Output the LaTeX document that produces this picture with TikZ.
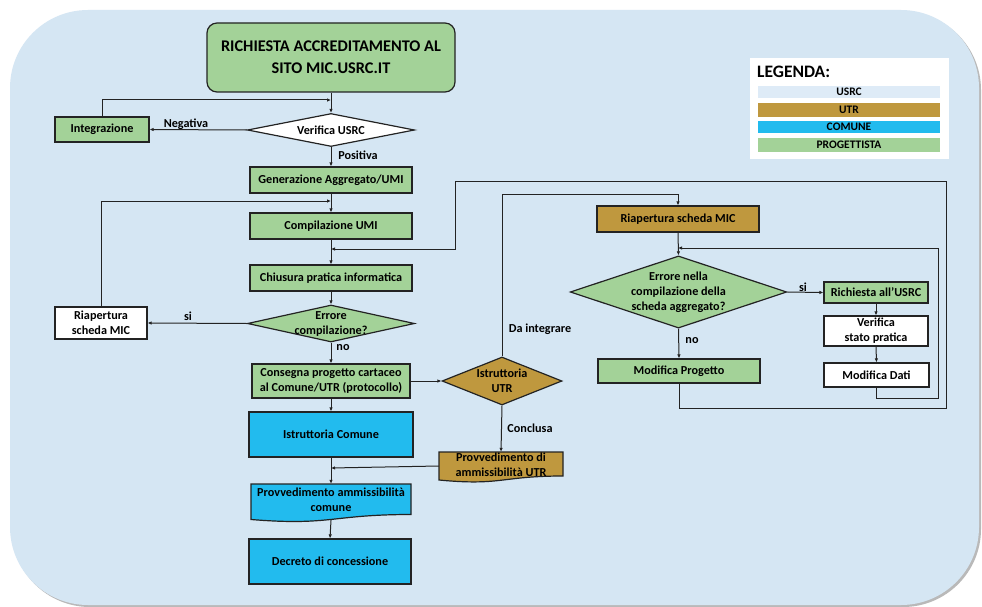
\documentclass[tikz,border=0pt]{standalone}
\usepackage{fontspec}
\setmainfont{Carlito}
\usetikzlibrary{shapes.geometric,arrows.meta}
\definecolor{bgblue}{RGB}{213,230,243}
\definecolor{pgreen}{RGB}{163,210,152}
\definecolor{ugold}{RGB}{191,152,62}
\definecolor{cblue}{RGB}{34,187,238}
\definecolor{lblue}{RGB}{222,235,247}
\definecolor{edgec}{RGB}{35,35,35}
\newcommand\bxfont{\fontsize{12.2}{15}\selectfont\bfseries}
\tikzset{
  box/.style={draw=edgec, line width=1.2pt, inner sep=0pt, align=center, font=\bxfont},
  gbox/.style={box, fill=pgreen},
  obox/.style={box, fill=ugold},
  cbox/.style={box, fill=cblue},
  wbox/.style={box, fill=white},
  dia/.style={box, shape=diamond, aspect=3},
  arr/.style={draw=edgec, line width=1pt, -{Latex[length=4pt,width=3.5pt]}},
  lbl/.style={font=\bxfont, inner sep=0pt},
  legbar/.style={inner sep=0pt, minimum width=182pt, font=\fontsize{11.5}{12}\selectfont\bfseries}
}
\begin{document}
\begin{tikzpicture}[x=1pt,y=-1pt]
\useasboundingbox (0,0) rectangle (982,607);
% background
\fill[white] (0,0) rectangle (982,607);
\fill[gray!55, rounded corners=78pt] (12,12) rectangle (981,607);
\fill[bgblue, rounded corners=78pt] (10,10) rectangle (979,605);

% legend
\node[fill=white, minimum width=199pt, minimum height=101pt, inner sep=0pt] (leg) at (849.5,108.5) {};
\node[anchor=west, inner sep=0pt, font=\fontsize{17.5}{20}\selectfont\bfseries] (legt) at (757,72) {LEGENDA:};
\node[legbar, fill=lblue, minimum height=12pt] (lusrc) at (849,92) {USRC};
\node[legbar, fill=ugold, minimum height=14pt] (lutr) at (849,110) {UTR};
\node[legbar, fill=cblue, minimum height=12pt] (lcom) at (849,127) {COMUNE};
\node[legbar, fill=pgreen, minimum height=14pt] (lprog) at (849,145) {PROGETTISTA};

% left column
\node[gbox, rounded corners=10pt, minimum width=248pt, minimum height=69pt,
      font=\fontsize{16.3}{22}\selectfont\bfseries] (title) at (331,57.5)
      {RICHIESTA ACCREDITAMENTO AL\\SITO MIC.USRC.IT};
\node[dia, fill=white, minimum width=167pt, minimum height=33pt, aspect=5] (verusrc) at (331,130) {Verifica USRC};
\node[gbox, minimum width=94pt, minimum height=25pt] (integ) at (102,129.5) {Integrazione};
\node[gbox, minimum width=162pt, minimum height=26pt] (gen) at (331,180) {Generazione Aggregato/UMI};
\node[gbox, minimum width=162pt, minimum height=26pt] (comp) at (331,226) {Compilazione UMI};
\node[gbox, minimum width=162pt, minimum height=26pt] (chius) at (331,278) {Chiusura pratica informatica};
\node[dia, fill=pgreen, minimum width=167pt, minimum height=37pt, aspect=4.5] (errc) at (331,323.5) {};
\node[lbl, align=center] (errctxt) at (331,324) {Errore\\compilazione?};
\node[wbox, minimum width=92pt, minimum height=32pt] (riapl) at (101,323) {Riapertura\\scheda MIC};
\node[gbox, minimum width=158pt, minimum height=34pt] (cons) at (331,381) {Consegna progetto cartaceo\\al Comune/UTR (protocollo)};
\node[dia, fill=ugold, minimum width=120pt, minimum height=48pt, aspect=2.5] (iutr) at (502,381) {Istruttoria\\UTR};
\node[cbox, minimum width=164pt, minimum height=45pt] (icom) at (331,434.5) {Istruttoria Comune};
% document shapes
\node[inner sep=0pt, minimum width=124pt, minimum height=28pt] (putr) at (501,466) {};
\fill[ugold] (439,452) -- (563,452) -- (563,476) .. controls (501,476) and (501,486) .. (439,480) -- cycle;
\draw[edgec, line width=1.2pt] (439,452) -- (563,452) -- (563,476) .. controls (501,476) and (501,486) .. (439,480) -- cycle;
\node[inner sep=0pt, align=center, font=\bxfont] (putrtxt) at (501,465) {Provvedimento di\\ammissibilità UTR};
\node[inner sep=0pt, minimum width=160pt, minimum height=36pt] (pcom) at (331,502) {};
\fill[cblue] (251,484) -- (411,484) -- (411,514.5) .. controls (331,514.5) and (331,526) .. (251,519.5) -- cycle;
\draw[edgec, line width=1.2pt] (251,484) -- (411,484) -- (411,514.5) .. controls (331,514.5) and (331,526) .. (251,519.5) -- cycle;
\node[inner sep=0pt, align=center, font=\bxfont] (pcomtxt) at (331,500) {Provvedimento ammissibilità\\comune};
\node[cbox, minimum width=162pt, minimum height=45pt] (decr) at (330,561.5) {Decreto di concessione};

% right column
\node[obox, minimum width=162pt, minimum height=26pt] (riapr) at (678,219) {Riapertura scheda MIC};
\node[dia, fill=pgreen, minimum width=215pt, minimum height=72pt, aspect=3] (erra) at (678.5,292) {Errore nella\\compilazione della\\scheda aggregato?};
\node[gbox, minimum width=104pt, minimum height=21pt] (rich) at (876,292.5) {Richiesta all’USRC};
\node[wbox, minimum width=104pt, minimum height=30pt] (verst) at (876,331) {Verifica\\stato pratica};
\node[wbox, minimum width=105pt, minimum height=24pt] (modd) at (876.5,375) {Modifica Dati};
\node[gbox, minimum width=162pt, minimum height=24pt] (modp) at (679,371) {Modifica Progetto};

% junction coordinates
\coordinate (j1) at (331,100);
\coordinate (j2) at (331,201);
\coordinate (j3) at (331,249);
\coordinate (j4) at (331,468);
\coordinate (j5) at (678,248);
\coordinate (bl1) at (946,408);
\coordinate (tl1) at (946,181);
\coordinate (tl2) at (455,181);
\coordinate (bl2) at (938,398);
\coordinate (tu) at (502,194);

% connectors
\draw[arr] (title) -- (verusrc);
\draw[arr] (integ.north) |- (j1);
\draw[arr] (verusrc.west) -- (integ.east);
\draw[arr] (verusrc.south) -- (gen.north);
\draw[arr] (gen.south) -- (comp.north);
\draw[arr] (riapl.north) |- (j2);
\draw[arr] (comp.south) -- (chius.north);
\draw[arr] (chius.south) -- (errc.north);
\draw[arr] (errc.west) -- (riapl.east);
\draw[arr] (errc.south) -- (cons.north);
\draw[arr] (cons.east) -- (iutr.west);
\draw[arr] (cons.south) -- (icom.north);
\draw[arr] (iutr.north) -- (tu) -| (riapr.north);
\draw[arr] (iutr.south) -- (putr.north);
\draw[arr] (icom.south) -- (pcom.north);
\draw[arr] (putr.west) -- (j4);
\draw[arr] (pcom.south) -- (decr.north);
\draw[arr] (riapr.south) -- (erra.north);
\draw[arr] (erra.east) -- (rich.west);
\draw[arr] (erra.south) -- (modp.north);
\draw[arr] (rich.south) -- (verst.north);
\draw[arr] (verst.south) -- (modd.north);
\draw[arr] (modd.south) |- (bl2) |- (j5);
\draw[arr] (modp.south) |- (bl1) -- (tl1) -- (tl2) |- (j3);

% labels
\node[lbl] (lneg) at (186,124) {Negativa};
\node[lbl] (lpos) at (358,155) {Positiva};
\node[lbl] (lsi1) at (188,316) {si};
\node[lbl] (lno1) at (343,348) {no};
\node[lbl] (ldai) at (540,329) {Da integrare};
\node[lbl] (lconc) at (530,428) {Conclusa};
\node[lbl] (lsi2) at (803,287) {si};
\node[lbl] (lno2) at (692,341) {no};
\end{tikzpicture}
\end{document}
